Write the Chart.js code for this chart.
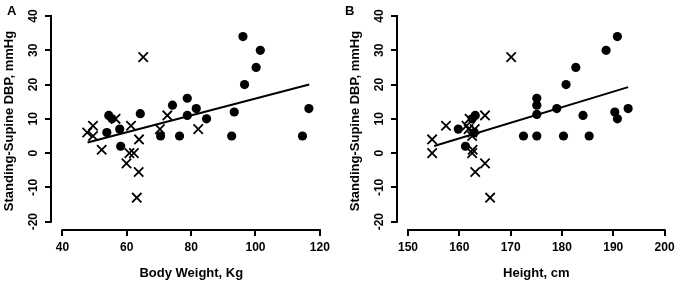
<!DOCTYPE html>
<html><head><meta charset="utf-8">
<script src="https://cdn.jsdelivr.net/npm/chart.js@4.4.1/dist/chart.umd.min.js"></script>
<style>
html,body{margin:0;padding:0;background:#fff;overflow:hidden;width:684px;height:283px;}
.panel{position:absolute;top:0;height:283px;}
.lbl{position:absolute;top:4px;font:bold 13px/13px "Liberation Sans",Arial,sans-serif;color:#000;}
</style></head><body>
<div class="panel" style="left:0;width:340px"><canvas id="ca"></canvas></div>
<div class="panel" style="left:346px;width:338px"><canvas id="cb"></canvas></div>
<div class="lbl" style="left:7px">A</div>
<div class="lbl" style="left:345px">B</div>
<script>
// ---- data ----
const weightCircles = [53.8,54.4,55.4,57.8,58.1,64.2,70.5,74.2,76.4,78.8,78.8,81.6,84.8,92.6,93.4,96.1,96.6,100.2,101.5,114.6,116.6];
const dbpCirclesA   = [6,11,10,7,2,11.5,5,14,5,16,11,13,10,5,12,34,20,25,30,5,13];
const weightCrosses = [47.7,49.5,49.5,52.2,56.5,59.9,60.8,61.3,62.2,63.1,63.7,63.8,65.1,70.3,72.6,82.2];
const dbpCrossesA   = [6,8,5,1,10,-3,0,8,0,-13,-5.5,4,28,7,11,7];
const fitWeight = [47.8,116.7];
const fitDbpA   = [3.1,20.0];

const heightCircles = [159.8,161.2,162.5,163.1,162.9,172.5,175.1,175.1,175.1,175.1,179,180.3,180.8,182.7,184.1,185.3,188.6,190.3,190.8,190.8,192.9];
const dbpCirclesB   = [7,2,10,11,6,5,16,14,11.3,5,13,5,20,25,11,5,30,12,34,10,13];
const heightCrosses = [154.7,154.7,157.4,161.4,165,162,161.8,163,162.5,162.5,162.6,162.5,165,163.1,166,170.1];
const dbpCrossesB   = [4,0,8,8,11,10,7,7,6,5,1,0,-3,-5.5,-13,28];
const fitHeight = [155.1,192.9];
const fitDbpB   = [2.1,19.25];

const weightTicks = [40,60,80,100,120];
const heightTicks = [150,160,170,180,190,200];
const dbpTicks    = [-20,-10,0,10,20,30,40];
const yTitle = 'Standing-Supine DBP, mmHg';

// ---- helpers ----
const FONT = '"Liberation Sans", Arial, sans-serif';
const pts = (xs, ys) => xs.map((x,i)=>({x, y: ys[i]}));

const rAxes = {
  id: 'rAxes',
  afterDraw(chart){
    const {ctx, chartArea, scales:{x, y}} = chart;
    ctx.save();
    ctx.strokeStyle = '#000';
    ctx.lineWidth = 2;
    const xa = x.getPixelForValue(x.ticks[0].value), xb = x.getPixelForValue(x.ticks[x.ticks.length-1].value);
    ctx.beginPath(); ctx.moveTo(xa-1, chartArea.bottom); ctx.lineTo(xb+1, chartArea.bottom); ctx.stroke();
    const ya = y.getPixelForValue(y.ticks[0].value), yb = y.getPixelForValue(y.ticks[y.ticks.length-1].value);
    ctx.beginPath(); ctx.moveTo(chartArea.left, ya+1); ctx.lineTo(chartArea.left, yb-1); ctx.stroke();
    ctx.restore();
  }
};

function makeChart(id, xc, yc, xx, yx, fx, fy, xTicks, xTitle, xmin, xmax, padRight){
  return new Chart(document.getElementById(id), {
    type: 'scatter',
    data: { datasets: [
      { data: pts(xc, yc), pointStyle:'circle', pointRadius:4.6, pointHoverRadius:4.6,
        backgroundColor:'#000', borderWidth:0 },
      { data: pts(xx, yx), pointStyle:'crossRot', pointRadius:6.6, pointHoverRadius:6.6,
        borderColor:'#000', backgroundColor:'#000', borderWidth:1.8 },
      { type:'line', data: pts(fx, fy), borderColor:'#000', borderWidth:2,
        pointRadius:0, fill:false, tension:0 }
    ]},
    options: {
      responsive:true, maintainAspectRatio:false, animation:false,
      layout:{ padding:{ top:12, right:padRight, left:0, bottom:0 } },
      plugins:{ legend:{display:false}, tooltip:{enabled:false} },
      scales:{
        x:{ type:'linear', min:xmin, max:xmax,
            afterBuildTicks: s => { s.ticks = xTicks.map(v=>({value:v})); },
            afterFit: s => { s.height = 53; },
            grid:{ display:true, drawOnChartArea:false, drawTicks:true, tickLength:6, color:'#000', lineWidth:2 },
            border:{ display:false },
            ticks:{ autoSkip:false, maxRotation:0, padding:4, color:'#000',
                    font:{ family:FONT, size:12, weight:'bold' } },
            title:{ display:true, text:xTitle, color:'#000', padding:{top:0,bottom:1.7},
                    font:{ family:FONT, size:13, weight:'bold' } } },
        y:{ type:'linear', min:-22.43, max:41.17,
            afterBuildTicks: s => { s.ticks = dbpTicks.map(v=>({value:v})); },
            afterFit: s => { s.width = 51; },
            grid:{ display:true, drawOnChartArea:false, drawTicks:true, tickLength:6, color:'#000', lineWidth:2 },
            border:{ display:false },
            ticks:{ autoSkip:false, minRotation:90, maxRotation:90, crossAlign:'center', padding:3, color:'#000',
                    font:{ family:FONT, size:12, weight:'bold' } },
            title:{ display:true, text:yTitle, color:'#000', padding:{top:1.2,bottom:0},
                    font:{ family:FONT, size:13, weight:'bold' } } }
      }
    },
    plugins:[rAxes]
  });
}

makeChart('ca', weightCircles, dbpCirclesA, weightCrosses, dbpCrossesA, fitWeight, fitDbpA,
          weightTicks, 'Body Weight, Kg', 36.441, 123.66, 3);
makeChart('cb', heightCircles, dbpCirclesB, heightCrosses, dbpCrossesB, fitHeight, fitDbpB,
          heightTicks, 'Height, cm', 147.855, 202.145, 1);
</script>
</body></html>
